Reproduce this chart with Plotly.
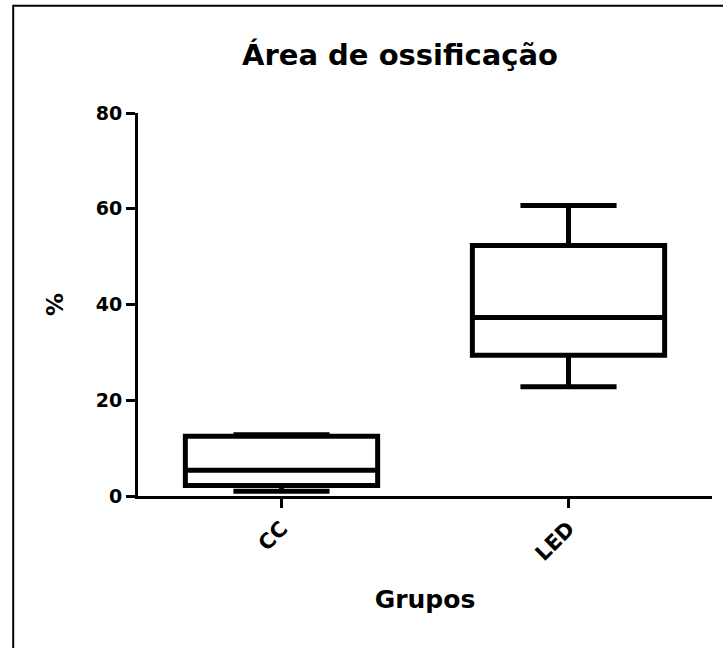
import plotly.graph_objects as go

# Data
groups = ["CC", "LED"]
lower_whisker = [1.0, 22.8]
q1_values = [2.2, 29.4]
median_values = [5.4, 37.3]
q3_values = [12.5, 52.3]
upper_whisker = [12.8, 60.7]
y_ticks = [0, 20, 40, 60, 80]

FONT = "DejaVu Sans"

fig = go.Figure()
fig.add_trace(go.Box(
    x=groups,
    q1=q1_values,
    median=median_values,
    q3=q3_values,
    lowerfence=lower_whisker,
    upperfence=upper_whisker,
    width=0.67,
    whiskerwidth=0.5,
    boxpoints=False,
    fillcolor="white",
    line=dict(color="black", width=5),
    showlegend=False,
))

# Frame (top and left edges visible in the reference, cropped at right/bottom)
fig.add_shape(type="rect", xref="paper", yref="paper",
              x0=-0.2174, x1=1.1, y0=-0.45, y1=1.2799,
              line=dict(color="black", width=2), fillcolor="rgba(0,0,0,0)",
              layer="above")

fig.update_layout(
    width=723, height=648,
    margin=dict(l=138, r=11, t=113, b=152, pad=0),
    paper_bgcolor="white", plot_bgcolor="white",
    font=dict(family=FONT, color="black"),
    title=dict(text="Área de ossificação", x=400 / 723, xref="container", xanchor="center",
               y=1 - 55 / 648, yref="container", yanchor="middle",
               font=dict(family=FONT, size=29, weight="bold", color="black")),
    xaxis=dict(
        type="category", range=[-0.5, 1.5],
        showline=True, linecolor="black", linewidth=3,
        ticks="outside", ticklen=9, tickwidth=3, tickcolor="black",
        tickangle=-45, showgrid=False, zeroline=False,
        tickfont=dict(family=FONT, size=21, weight="bold", color="black"),
        title=dict(text="Grupos", standoff=26,
                   font=dict(family=FONT, size=25, weight="bold", color="black")),
    ),
    yaxis=dict(
        range=[0, 80], tickvals=y_ticks,
        showline=True, linecolor="black", linewidth=3,
        ticks="outside", ticklen=9, tickwidth=3, tickcolor="black",
        showgrid=False, zeroline=False,
        tickfont=dict(family=FONT, size=19, weight="bold", color="black"),
        title=dict(text="%", standoff=26,
                   font=dict(family=FONT, size=23, weight="bold", color="black")),
    ),
)

fig.write_html(
    "out.html",
    config={"displayModeBar": False},
    post_script="document.body.style.margin='0';document.body.style.overflow='hidden';",
)
